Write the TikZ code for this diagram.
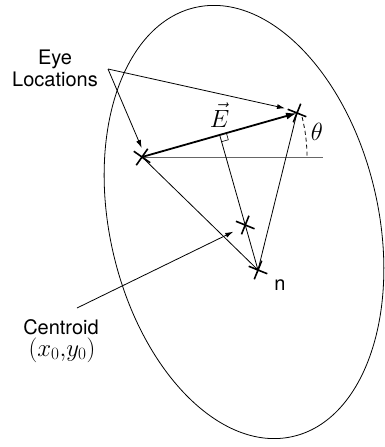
\documentclass[tikz,border=0pt]{standalone}
\usepackage{fontspec}
\newfontfamily\helv{TeX Gyre Heros}
\usetikzlibrary{arrows.meta,calc}
\begin{document}
\begin{tikzpicture}[x=1pt,y=-1pt,
  thinline/.style={line width=0.8pt},
  ptr/.style={line width=0.8pt,-{Latex[length=8pt,width=5pt]}},
  lbl/.style={font=\helv\fontsize{20}{22}\selectfont, inner sep=0pt},
  mlbl/.style={font=\fontsize{25}{28}\selectfont, inner sep=0pt},
  xmark/.pic={\draw[line width=1.6pt] (-10pt,0)--(10pt,0) (0,-10pt)--(0,10pt);}
]
\useasboundingbox (0,0) rectangle (385,447);
% face ellipse
\coordinate (O) at (244,222);
\draw[line width=0.8pt, rotate around={12.8:(O)}] (O) ellipse [x radius=134.4pt, y radius=220pt];
% key points
\coordinate (A) at (142,157);
\coordinate (B) at (297,113);
\coordinate (N) at (258,270);
\coordinate (F) at ($(A)!(N)!(B)$);
\coordinate (C) at ($(F)!0.667!(N)$);
\coordinate (H) at (323,157);
% lines
\draw[black!60, line width=0.9pt] (A) -- (H);
\draw[thinline] (A) -- (N);
\draw[thinline] (F) -- (N);
\draw[thinline] (B) -- (N);
\draw[line width=1.8pt, -{Latex[length=11pt,width=7pt]}] (A) -- (B);
% right angle mark
\coordinate (P1) at ($(F)!7pt!(B)$);
\coordinate (P2) at ($(F)!7pt!(N)$);
\draw[line width=0.6pt] (P1) -- ($(P1)+(P2)-(F)$) -- (P2);
% theta arc
\draw[dash pattern=on 4pt off 3pt, line width=0.8pt] ($(A)+(14:165pt)$) arc[start angle=14, end angle=0, radius=165pt];
% markers
\pic[rotate=-35] at (A) {xmark};
\pic[rotate=-22] at (B) {xmark};
\pic[rotate=-22] at (C) {xmark};
\pic[rotate=-22] at (N) {xmark};
% labels
\node[mlbl, anchor=base] (E) at (219.5,127) {$\vec{E}$};
\node[mlbl, anchor=base] (th) at (317,140) {$\theta$};
\node[lbl, anchor=base] (n) at (280,290) {n};
\node[lbl, align=center, anchor=north] (eye) at (55,50) {Eye\\Locations};
\node[lbl, anchor=base] (cen) at (61,334) {Centroid};
\node[mlbl, anchor=base] (xy) at (62,356) {$(x_0{,}y_0)$};
% pointers
\coordinate (eyept) at (108,69);
\coordinate (tipA) at (141.7,148);
\coordinate (tipB) at (285,108.3);
\draw[ptr] (eyept) -- (tipA);
\draw[ptr] (eyept) -- (tipB);
\coordinate (cenpt) at (77,308);
\coordinate (tipC) at (233.3,231.7);
\draw[ptr] (cenpt) -- (tipC);
\end{tikzpicture}
\end{document}
